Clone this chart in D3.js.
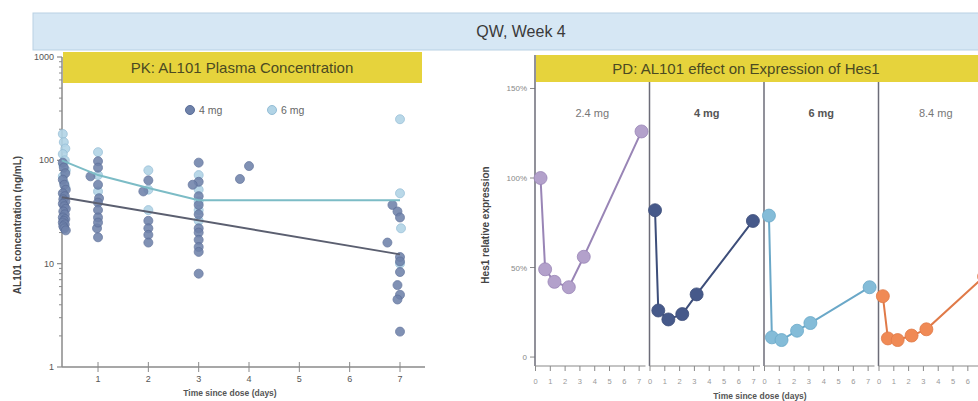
<!DOCTYPE html>
<html><head><meta charset="utf-8">
<script src="https://cdn.jsdelivr.net/npm/d3@7"></script>
<style>body{margin:0;background:#fff}svg{display:block;font-family:"Liberation Sans",Arial,sans-serif}</style>
</head><body><svg id="c" width="978" height="401"></svg>
<script>
// ---------- DATA ----------
const bannerTitle = "QW, Week 4";
const pkTitle = "PK: AL101 Plasma Concentration";
const pdTitle = "PD: AL101 effect on Expression of Hes1";
const pkSeries = ["4 mg", "6 mg"];
const pkXTicks = [1, 2, 3, 4, 5, 6, 7];
const pkYTicks = [1, 10, 100, 1000];

const pk4Time = [0.3,0.32,0.35,0.3,0.33,0.36,0.3,0.34,0.31,0.35,0.3,0.33,0.36,0.31,0.34,0.3,0.35,0.32,0.3,0.34,0.31,0.33,0.36,
  1,0.85,1,1,1.02,1,1,1,0.98,1,1,
  2,1.9,2,2,2,2,
  3,3,2.88,3,3,3,3,3,3,3,3,3,
  3.82,4.0,
  6.85,6.95,7,6.75,7,7,7,6.95,7,6.95,7];
const pk4Conc = [95,85,75,65,58,52,48,45,42,40,38,36,34,32,30,28,27,26,25,24,23,22,21,
  98,70,85,58,43,39,33,28,22,18,25,
  64,50,26,22,19,16,
  95,62,58,45,37,30,22,20,17,14.5,13,8,
  66,88,
  37,32,28,16,11.6,10.5,8.3,6.2,5,4.5,2.2];
const pk6Time = [0.3,0.32,0.35,0.3,0.34,0.31,0.36,0.3,0.33,0.35,0.32,
  1,1,1,
  2,2,2,
  3,3,3,3,3,
  7,7,7.02,7];
const pk6Conc = [180,150,130,115,100,90,80,70,60,55,45,
  120,72,50,
  80,52,33,
  72,52,40,33,26,
  250,48,22,10];
const pk6LineTime = [0.28, 1, 2, 3, 7];
const pk6LineConc = [100, 72, 54, 41, 41];
const pk4LineTime = [0.28, 7];
const pk4LineConc = [44, 12.3];

const pdDoses = ["2.4 mg", "4 mg", "6 mg", "8.4 mg"];
const pdBold = [false, true, true, false];
const pdXTicks = [0, 1, 2, 3, 4, 5, 6, 7];
const pdYTicks = [0, 50, 100, 150];
const pdYTickLabels = ["0", "50%", "100%", "150%"];
const pd24Time = [0.34, 0.65, 1.28, 2.25, 3.26, 7.16];
const pd24Val  = [100, 49, 42, 39, 56, 126];
const pd4Time  = [0.34, 0.56, 1.24, 2.18, 3.15, 6.95];
const pd4Val   = [82, 26, 21, 24, 35, 76];
const pd6Time  = [0.3, 0.5, 1.15, 2.2, 3.1, 7.1];
const pd6Val   = [79, 11, 9.5, 14.7, 19, 39];
const pd84Time = [0.26, 0.6, 1.26, 2.2, 3.2, 7.1];
const pd84Val  = [34, 10.4, 9.5, 12, 15.5, 45];

// ---------- STYLE ----------
const yellow = "#e6d33c", titleInk = "#4b4a22";
const c4 = "#6f82aa", c4s = "#5a6d98", c6 = "#b2d4e6", c6s = "#93bdd6";
const l4 = "#5b5f70", l6 = "#7cbcc6";
const pdColors = [
  {fill:"#b3a1cb", line:"#9985b6"},
  {fill:"#46598a", line:"#3d4e7a"},
  {fill:"#84bcd8", line:"#6aa8c8"},
  {fill:"#f08a55", line:"#e07a48"}];
const axisInk = "#8a8a8a";

const svg = d3.select("#c");
svg.append("rect").attr("width",978).attr("height",401).attr("fill","#fff");

// banner
svg.append("rect").attr("x",33).attr("y",13).attr("width",950).attr("height",37)
  .attr("fill","#d6e7f4").attr("stroke","#b9d1e4").attr("stroke-width",1);
svg.append("text").attr("x",521).attr("y",37).attr("text-anchor","middle")
  .attr("font-size",16).attr("fill","#3a3a3a").text(bannerTitle);

// ---------- PK panel ----------
const xPK = d3.scaleLinear().domain([0, 7]).range([47.7, 400]);
const yPK = d3.scaleLog().domain([1, 1000]).range([367, 57]);
const pkLeft = 62, pkRight = 425;

svg.append("rect").attr("x",63).attr("y",52).attr("width",359).attr("height",31).attr("fill",yellow);
svg.append("text").attr("x",242).attr("y",73).attr("text-anchor","middle").attr("font-size",15)
  .attr("fill",titleInk).text(pkTitle);

// y axis
const gy = svg.append("g").attr("transform",`translate(${pkLeft},0)`);
gy.append("line").attr("y1",yPK(1000)).attr("y2",yPK(1)).attr("stroke",axisInk).attr("stroke-width",1.5);
const minor = [];
[1,10,100].forEach(d=>{for(let k=2;k<=9;k++) minor.push(d*k);});
gy.selectAll("line.mn").data(minor).join("line").attr("class","mn")
  .attr("x1",-3).attr("x2",0).attr("y1",d=>yPK(d)).attr("y2",d=>yPK(d)).attr("stroke",axisInk);
gy.selectAll("line.mj").data(pkYTicks).join("line").attr("class","mj")
  .attr("x1",-5).attr("x2",0).attr("y1",d=>yPK(d)).attr("y2",d=>yPK(d)).attr("stroke",axisInk).attr("stroke-width",1.2);
gy.selectAll("text").data(pkYTicks).join("text")
  .attr("x",-8).attr("y",d=>yPK(d)+3).attr("text-anchor","end").attr("font-size",9).attr("fill","#555").text(d=>d);

// x axis
const gx = svg.append("g");
gx.append("line").attr("x1",pkLeft).attr("x2",pkRight).attr("y1",367).attr("y2",367).attr("stroke",axisInk).attr("stroke-width",1.5);
gx.selectAll("line.t").data(pkXTicks).join("line").attr("class","t")
  .attr("x1",d=>xPK(d)).attr("x2",d=>xPK(d)).attr("y1",362).attr("y2",372).attr("stroke",axisInk);
gx.selectAll("text").data(pkXTicks).join("text")
  .attr("x",d=>xPK(d)).attr("y",382).attr("text-anchor","middle").attr("font-size",9).attr("fill","#555").text(d=>d);
svg.append("text").attr("x",230).attr("y",396).attr("text-anchor","middle").attr("font-size",8.5)
  .attr("font-weight","bold").attr("fill","#555").text("Time since dose (days)");
svg.append("text").attr("transform","translate(21,225) rotate(-90)").attr("text-anchor","middle")
  .attr("font-size",10).attr("font-weight","bold").attr("fill","#444").text("AL101 concentration (ng/mL)");

// legend
const leg = [{x:190, c:c4, s:c4s, t:pkSeries[0]},{x:272, c:c6, s:c6s, t:pkSeries[1]}];
leg.forEach(l=>{
  svg.append("circle").attr("cx",l.x).attr("cy",110).attr("r",4.5).attr("fill",l.c).attr("stroke",l.s);
  svg.append("text").attr("x",l.x+9).attr("y",114).attr("font-size",10.5).attr("fill","#666").text(l.t);
});

// points
const pk6 = pk6Time.map((t,i)=>({t, v:pk6Conc[i]}));
const pk4 = pk4Time.map((t,i)=>({t, v:pk4Conc[i]}));
svg.append("g").selectAll("circle").data(pk6).join("circle")
  .attr("cx",d=>xPK(d.t)).attr("cy",d=>yPK(d.v)).attr("r",4.5)
  .attr("fill",c6).attr("stroke",c6s).attr("stroke-width",0.8).attr("opacity",0.9);
svg.append("g").selectAll("circle").data(pk4).join("circle")
  .attr("cx",d=>xPK(d.t)).attr("cy",d=>yPK(d.v)).attr("r",4.5)
  .attr("fill",c4).attr("stroke",c4s).attr("stroke-width",0.8).attr("opacity",0.88);

// lines
const lnPK = d3.line().x(d=>xPK(d.t)).y(d=>yPK(d.v));
svg.append("path").datum(pk6LineTime.map((t,i)=>({t,v:pk6LineConc[i]})))
  .attr("d",lnPK).attr("fill","none").attr("stroke",l6).attr("stroke-width",2);
svg.append("path").datum(pk4LineTime.map((t,i)=>({t,v:pk4LineConc[i]})))
  .attr("d",lnPK).attr("fill","none").attr("stroke",l4).attr("stroke-width",2);

// ---------- PD panel ----------
const facetW = 114.5, facet0 = 535;
const xFacet = d3.scaleBand().domain(pdDoses).range([facet0, facet0 + facetW*4]).padding(0);
const yPD = d3.scaleLinear().domain([-5, 168.7]).range([366, 55]);
const pdAxisY = 366;

svg.append("rect").attr("x",536).attr("y",55).attr("width",445).attr("height",27).attr("fill",yellow);
svg.append("text").attr("x",746).attr("y",74).attr("text-anchor","middle").attr("font-size",15)
  .attr("fill",titleInk).text(pdTitle);

// y axis ticks + labels
const gpy = svg.append("g");
gpy.selectAll("line").data(pdYTicks).join("line")
  .attr("x1",facet0-5).attr("x2",facet0).attr("y1",d=>yPD(d)).attr("y2",d=>yPD(d)).attr("stroke",axisInk);
gpy.selectAll("text").data(pdYTicks).join("text")
  .attr("x",facet0-8).attr("y",d=>yPD(d)+3).attr("text-anchor","end").attr("font-size",8)
  .attr("fill","#888").text((d,i)=>pdYTickLabels[i]);
svg.append("text").attr("transform","translate(489,225) rotate(-90)").attr("text-anchor","middle")
  .attr("font-size",10).attr("font-weight","bold").attr("fill","#444").text("Hes1 relative expression");
svg.append("text").attr("x",760).attr("y",399).attr("text-anchor","middle").attr("font-size",8.5)
  .attr("font-weight","bold").attr("fill","#555").text("Time since dose (days)");

const pdData = [[pd24Time,pd24Val],[pd4Time,pd4Val],[pd6Time,pd6Val],[pd84Time,pd84Val]];
pdDoses.forEach((dose, k)=>{
  const x0 = xFacet(dose);
  const xs = d3.scaleLinear().domain([0, 7.7]).range([x0+0.5, x0 + facetW]);
  const g = svg.append("g");
  g.append("line").attr("x1",x0).attr("x2",x0).attr("y1", k===0 ? 55 : 82).attr("y2",pdAxisY)
    .attr("stroke","#6c6c78").attr("stroke-width",1.5);
  g.append("line").attr("x1",x0).attr("x2",x0+facetW-4).attr("y1",pdAxisY).attr("y2",pdAxisY)
    .attr("stroke",axisInk).attr("stroke-width",1.2);
  const visTicks = pdXTicks.filter(d => xs(d) + 4 < 978);
  g.selectAll("line.t").data(pdXTicks).join("line").attr("class","t")
    .attr("x1",d=>xs(d)).attr("x2",d=>xs(d)).attr("y1",pdAxisY).attr("y2",pdAxisY+5).attr("stroke",axisInk);
  g.selectAll("text.t").data(visTicks).join("text").attr("class","t")
    .attr("x",d=>xs(d)).attr("y",384).attr("text-anchor","middle").attr("font-size",7.5).attr("fill","#999").text(d=>d);
  g.append("text").attr("x",x0+facetW/2).attr("y",117).attr("text-anchor","middle").attr("font-size",11)
    .attr("font-weight",pdBold[k]?"bold":"normal").attr("fill",pdBold[k]?"#555":"#777").text(dose);
  const pts = pdData[k][0].map((t,i)=>({t, v:pdData[k][1][i]}));
  const ln = d3.line().x(d=>xs(d.t)).y(d=>yPD(d.v));
  g.append("path").datum(pts).attr("d",ln).attr("fill","none").attr("stroke",pdColors[k].line).attr("stroke-width",2);
  g.selectAll("circle").data(pts).join("circle")
    .attr("cx",d=>xs(d.t)).attr("cy",d=>yPD(d.v)).attr("r",6.5)
    .attr("fill",pdColors[k].fill).attr("stroke",pdColors[k].line).attr("stroke-width",0.8);
});
</script></body></html>
